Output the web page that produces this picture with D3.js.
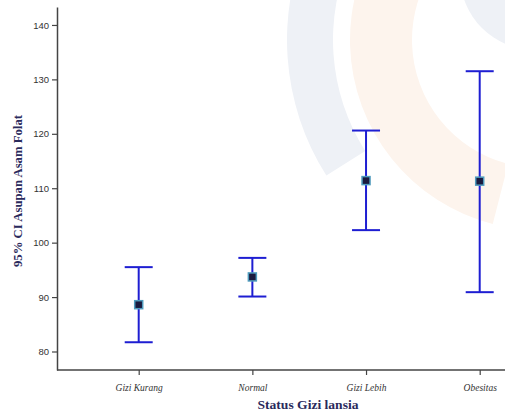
<!DOCTYPE html>
<html>
<head>
<meta charset="utf-8">
<script src="https://cdn.jsdelivr.net/npm/d3@7"></script>
<style>
  body { margin: 0; background: #fff; }
  #chart { width: 505px; height: 413px; }
</style>
</head>
<body>
<div id="chart"></div>
<script>
// --- data ---
const categories = ["Gizi Kurang", "Normal", "Gizi Lebih", "Obesitas"];
const means = [88.6, 93.7, 111.4, 111.3];
const lower = [81.7, 90.1, 102.3, 90.9];
const upper = [95.5, 97.2, 120.6, 131.5];
const yTicks = [80, 90, 100, 110, 120, 130, 140];

const width = 505;
const height = 413;

const barColor = "#1e1ed2";
const markerFill = "#1a1a3e";
const markerStroke = "#4f9bbd";
const axisColor = "#444";
const titleColor = "#2a2a5c";

const svg = d3
  .select("#chart")
  .append("svg")
  .attr("width", width)
  .attr("height", height);

// --- faint logo shapes behind the chart ---
const wm = svg.append("g").attr("class", "watermark");
const arc = d3.arc();
wm.append("path")
  .attr("transform", "translate(540,40)")
  .attr("d", arc({ innerRadius: 207, outerRadius: 253, startAngle: Math.PI * 1.32, endAngle: Math.PI * 1.95 }))
  .attr("fill", "#eef1f6");
wm.append("path")
  .attr("transform", "translate(540,40)")
  .attr("d", arc({ innerRadius: 128, outerRadius: 190, startAngle: Math.PI * 1.08, endAngle: Math.PI * 1.9 }))
  .attr("fill", "#fdf4ed");
wm.append("circle")
  .attr("cx", 535)
  .attr("cy", -25)
  .attr("r", 75)
  .attr("fill", "#eef1f6");

// --- scales ---
const x = d3.scalePoint().domain(categories).range([138.7, 479.7]);
const y = d3.scaleLinear().domain([76.6, 143.3]).range([370, 7]);

// y axis
const yAxis = svg
  .append("g")
  .attr("transform", "translate(57,0)")
  .call(d3.axisLeft(y).tickValues(yTicks).tickSize(5).tickPadding(3).tickSizeOuter(0));
yAxis.select(".domain").attr("stroke", axisColor).attr("stroke-width", 1.5);
yAxis.selectAll(".tick line").attr("stroke", axisColor).attr("stroke-width", 1.2);
yAxis
  .selectAll(".tick text")
  .attr("font-family", "Liberation Sans, Arial, sans-serif")
  .attr("font-size", 9.5)
  .attr("fill", "#333");

// x axis
const xAxis = svg
  .append("g")
  .attr("transform", "translate(0,370)")
  .call(d3.axisBottom(x).tickSize(5).tickPadding(9).tickSizeOuter(0));
xAxis.select(".domain").attr("d", "M57,0H505").attr("stroke", axisColor).attr("stroke-width", 1.5);
xAxis.selectAll(".tick line").attr("stroke", axisColor).attr("stroke-width", 1.2);
xAxis
  .selectAll(".tick text")
  .attr("font-family", "Liberation Serif, Times New Roman, serif")
  .attr("font-style", "italic")
  .attr("font-size", 9.5)
  .attr("fill", "#333");

// axis titles
svg.append("text")
  .attr("x", 308)
  .attr("y", 409)
  .attr("text-anchor", "middle")
  .attr("font-family", "Liberation Serif, Times New Roman, serif")
  .attr("font-weight", "bold")
  .attr("font-size", 13)
  .attr("textLength", 101)
  .attr("lengthAdjust", "spacingAndGlyphs")
  .attr("fill", titleColor)
  .text("Status Gizi lansia");

svg.append("text")
  .attr("transform", "translate(22,191) rotate(-90)")
  .attr("text-anchor", "middle")
  .attr("font-family", "Liberation Serif, Times New Roman, serif")
  .attr("font-weight", "bold")
  .attr("font-size", 13.5)
  .attr("textLength", 152)
  .attr("lengthAdjust", "spacingAndGlyphs")
  .attr("fill", titleColor)
  .text("95% CI Asupan Asam Folat");

// --- error bars ---
const rows = categories.map((c, i) => ({ cat: c, mean: means[i], lo: lower[i], hi: upper[i] }));
const capHalf = 14;

const bars = svg.append("g").attr("class", "bars").selectAll("g").data(rows).enter().append("g");

bars.append("line")
  .attr("x1", (d) => x(d.cat))
  .attr("x2", (d) => x(d.cat))
  .attr("y1", (d) => y(d.lo))
  .attr("y2", (d) => y(d.hi))
  .attr("stroke", barColor)
  .attr("stroke-width", 2);

bars.append("line")
  .attr("x1", (d) => x(d.cat) - capHalf)
  .attr("x2", (d) => x(d.cat) + capHalf)
  .attr("y1", (d) => y(d.hi))
  .attr("y2", (d) => y(d.hi))
  .attr("stroke", barColor)
  .attr("stroke-width", 2);

bars.append("line")
  .attr("x1", (d) => x(d.cat) - capHalf)
  .attr("x2", (d) => x(d.cat) + capHalf)
  .attr("y1", (d) => y(d.lo))
  .attr("y2", (d) => y(d.lo))
  .attr("stroke", barColor)
  .attr("stroke-width", 2);

// mean markers
bars.append("rect")
  .attr("x", (d) => x(d.cat) - 4)
  .attr("y", (d) => y(d.mean) - 4)
  .attr("width", 8)
  .attr("height", 8)
  .attr("fill", markerFill)
  .attr("stroke", markerStroke)
  .attr("stroke-width", 1.5);
</script>
</body>
</html>
